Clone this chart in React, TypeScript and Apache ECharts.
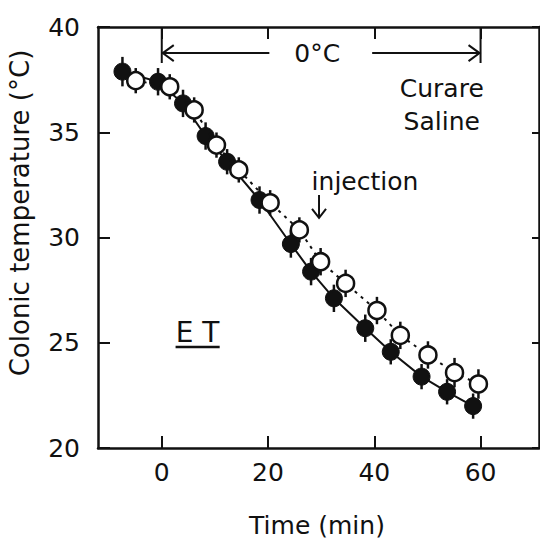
import React, { useEffect, useRef } from "react";
import * as echarts from "echarts";

// Filled circles (Curare)
const curareX = [-7.4, -0.7, 4.0, 8.25, 12.3, 18.4, 24.3, 28.1, 32.4, 38.3, 43.1, 48.9, 53.7, 58.6];
const curareY = [37.88, 37.4, 36.37, 34.82, 33.6, 31.78, 29.69, 28.38, 27.11, 25.69, 24.57, 23.39, 22.67, 21.99];
const curareErr = [0.7, 0.65, 0.65, 0.65, 0.6, 0.65, 0.65, 0.65, 0.65, 0.65, 0.6, 0.6, 0.6, 0.6];
// Open circles (Saline)
const salineX = [-4.9, 1.5, 6.1, 10.3, 14.5, 20.4, 25.9, 29.9, 34.6, 40.5, 44.9, 50.1, 55.1, 59.6];
const salineY = [37.45, 37.16, 36.06, 34.39, 33.21, 31.65, 30.36, 28.85, 27.82, 26.53, 25.35, 24.42, 23.58, 23.04];
const salineErr = [0.6, 0.6, 0.6, 0.6, 0.6, 0.6, 0.6, 0.65, 0.65, 0.65, 0.65, 0.65, 0.7, 0.7];

const xTicks = [0, 20, 40, 60];

const FONT = "DejaVu Sans";
const INK = "#111";

export default function App() {
  const ref = useRef<HTMLDivElement>(null);
  useEffect(() => {
    if (!ref.current) return;
    const chart = echarts.init(ref.current, undefined, { renderer: "svg" });
    const errRender = (params: any, api: any) => {
      const x = api.value(0), y = api.value(1), e = api.value(2);
      const a = api.coord([x, y + e]);
      const b = api.coord([x, y - e]);
      return {
        type: "line",
        shape: { x1: a[0], y1: a[1], x2: b[0], y2: b[1] },
        style: { stroke: INK, lineWidth: 2.5 },
      };
    };
    const axisCommon = {
      axisLine: { show: true, onZero: false, lineStyle: { color: INK, width: 2.5 } },
      axisTick: { show: true, inside: true, length: 12, lineStyle: { color: INK, width: 2 } },
      splitLine: { show: false },
    };
    chart.setOption({
      animation: false,
      backgroundColor: "#fff",
      grid: { left: 98, right: 1, top: 27, bottom: 93, containLabel: false },
      xAxis: [
        {
          type: "value", min: -12, max: 71, position: "bottom",
          ...axisCommon,
          axisTick: { ...axisCommon.axisTick, customValues: xTicks },
          axisLabel: { customValues: xTicks, fontFamily: FONT, fontSize: 25, color: INK, margin: 12 },
        },
        {
          type: "value", min: -12, max: 71, position: "top",
          ...axisCommon,
          axisTick: { ...axisCommon.axisTick, customValues: xTicks },
          axisLabel: { show: false },
        },
      ],
      yAxis: [
        {
          type: "value", min: 20, max: 40, interval: 5, position: "left",
          ...axisCommon,
          axisLabel: { fontFamily: FONT, fontSize: 25, color: INK, margin: 18 },
        },
        {
          type: "value", min: 20, max: 40, interval: 5, position: "right",
          ...axisCommon,
          axisTick: { ...axisCommon.axisTick, length: 7 },
          axisLabel: { show: false },
        },
      ],
      series: [
        {
          type: "custom", name: "curareErr", renderItem: errRender, z: 1,
          data: curareX.map((x, i) => [x, curareY[i], curareErr[i]]),
        },
        {
          type: "custom", name: "salineErr", renderItem: errRender, z: 1,
          data: salineX.map((x, i) => [x, salineY[i], salineErr[i]]),
        },
        {
          type: "line", name: "Curare", z: 3,
          data: curareX.map((x, i) => [x, curareY[i]]),
          symbol: "circle", symbolSize: 17, showSymbol: true,
          lineStyle: { color: INK, width: 2 },
          itemStyle: { color: INK, borderColor: INK, borderWidth: 1 },
        },
        {
          type: "line", name: "Saline", z: 4,
          data: salineX.map((x, i) => [x, salineY[i]]),
          symbol: "circle", symbolSize: 17, showSymbol: true,
          lineStyle: { color: INK, width: 2, type: [3, 5] },
          itemStyle: { color: "#fff", borderColor: INK, borderWidth: 2.5 },
        },
      ],
    });

    const p = (x: number, y: number) => chart.convertToPixel({ gridIndex: 0 }, [x, y]) as number[];
    const ls = { stroke: INK, lineWidth: 2, fill: "none" };
    const txt = (x: number, y: number, text: string, size: number) => ({
      type: "text", x, y, z: 10,
      style: { text, fontFamily: FONT, fontSize: size, fill: INK, align: "center", verticalAlign: "middle" },
    });
    const yTop = p(0, 40)[1];
    const yArrow = p(0, 38.76)[1];
    const yBr = p(0, 38.29)[1];
    const x0 = p(0, 40)[0];
    const x60 = p(60, 40)[0];
    const xl = p(20.25, 40)[0];
    const xr = p(39.6, 40)[0];
    const inj = p(29.6, 32.02);
    const injEnd = p(29.6, 30.93);
    const ulA = p(2.6, 24.8);
    const ulB = p(10.9, 24.8);
    const etC = p(6.75, 25.51);
    const g: any[] = [
      { type: "line", z: 10, shape: { x1: x0, y1: yTop, x2: x0, y2: yBr }, style: ls },
      { type: "line", z: 10, shape: { x1: x60, y1: yTop, x2: x60, y2: yBr }, style: ls },
      { type: "line", z: 10, shape: { x1: x0, y1: yArrow, x2: xl, y2: yArrow }, style: ls },
      { type: "polyline", z: 10, shape: { points: [[x0 + 12, yArrow - 8], [x0 + 1, yArrow], [x0 + 12, yArrow + 8]] }, style: ls },
      { type: "line", z: 10, shape: { x1: xr, y1: yArrow, x2: x60, y2: yArrow }, style: ls },
      { type: "polyline", z: 10, shape: { points: [[x60 - 12, yArrow - 8], [x60 - 1, yArrow], [x60 - 12, yArrow + 8]] }, style: ls },
      txt(p(29.25, 40)[0], yArrow, "0°C", 25),
      txt(p(52.7, 37.1)[0], p(52.7, 37.1)[1], "Curare", 25),
      txt(p(52.7, 35.49)[0], p(52.7, 35.49)[1], "Saline", 25),
      txt(p(38.25, 32.64)[0], p(38.25, 32.64)[1], "injection", 25),
      { type: "line", z: 10, shape: { x1: inj[0], y1: inj[1], x2: injEnd[0], y2: injEnd[1] }, style: ls },
      { type: "polyline", z: 10, shape: { points: [[injEnd[0] - 7, injEnd[1] - 9], [injEnd[0], injEnd[1]], [injEnd[0] + 7, injEnd[1] - 9]] }, style: ls },
      txt(etC[0], etC[1], "E T", 28),
      { type: "line", z: 10, shape: { x1: ulA[0], y1: ulA[1], x2: ulB[0], y2: ulB[1] }, style: { stroke: INK, lineWidth: 2.5 } },
      {
        type: "text", x: 20, y: 213, rotation: Math.PI / 2, z: 10,
        style: { text: "Colonic temperature (°C)", fontFamily: FONT, fontSize: 26, fill: INK, align: "center", verticalAlign: "middle" },
      },
      txt(317, 525, "Time (min)", 25),
    ];
    chart.setOption({ graphic: g });
    return () => chart.dispose();
  }, []);
  return <div ref={ref} style={{ width: 540, height: 541, position: "absolute", left: 0, top: 0 }} />;
}
